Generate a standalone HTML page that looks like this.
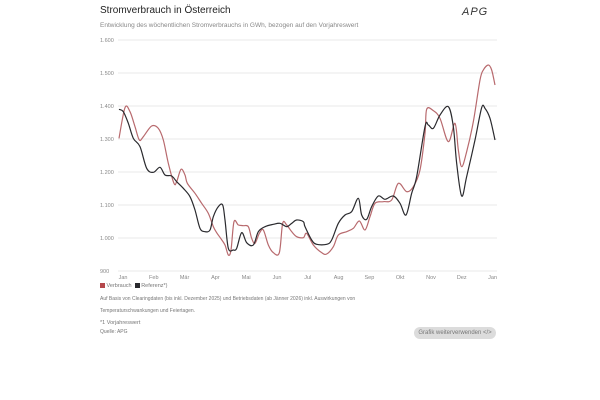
<!DOCTYPE html><html><head><meta charset="utf-8"><style>
body{margin:0;background:#fff;font-family:"Liberation Sans",sans-serif;}
#w{position:relative;width:600px;height:400px;overflow:hidden}
.t{position:absolute;color:#777;font-size:5.5px;white-space:nowrap}
</style></head><body><div id="w">
<div class="t" style="left:100px;top:5px;font-size:10px;color:#222">Stromverbrauch in Österreich</div>
<div class="t" style="left:100px;top:22px;font-size:6.5px;color:#888">Entwicklung des wöchentlichen Stromverbrauchs in GWh, bezogen auf den Vorjahreswert</div>
<div class="t" style="left:462px;top:6px;font-size:11px;font-style:italic;color:#333;letter-spacing:1px">APG</div>
<svg id="s" width="600" height="400" style="position:absolute;left:0;top:0"></svg>
<div class="t" style="left:100px;top:283px"><span style="display:inline-block;width:5px;height:5px;background:#b5484c;vertical-align:middle"></span> Verbrauch &nbsp;<span style="display:inline-block;width:5px;height:5px;background:#2a2a2e;vertical-align:middle"></span> Referenz*)</div>
<div class="t" style="left:100px;top:296px;font-size:5px">Auf Basis von Clearingdaten (bis inkl. Dezember 2025) und Betriebsdaten (ab Jänner 2026) inkl. Auswirkungen von</div>
<div class="t" style="left:100px;top:308px;font-size:5px">Temperaturschwankungen und Feiertagen.</div>
<div class="t" style="left:100px;top:320px">*1 Vorjahreswert</div>
<div class="t" style="left:100px;top:329px;font-size:5px">Quelle: APG</div>
<div class="t" style="left:414px;top:327px;width:82px;height:12px;border-radius:6px;background:#dcdcdc;line-height:12px;text-align:center;font-size:6px;color:#777">Grafik weiterverwenden &lt;/&gt;</div>
</div>
<script>
var s=document.getElementById('s'),h='';
for(var v=900;v<=1600;v+=100){var y=271-(v-900)*0.33;h+='<line x1="118" x2="497" y1="'+y+'" y2="'+y+'" stroke="#e3e3e3" stroke-width="0.8"/>';
h+='<text x="100" y="'+(y+2)+'" font-size="5.5" fill="#888" font-family="Liberation Sans">'+(v==900?'900':(''+v).replace(/^(\d)/,'$1.'))+'</text>';}
var m=['Jan','Feb','Mär','Apr','Mai','Jun','Jul','Aug','Sep','Okt','Nov','Dez','Jan'];
for(var i=0;i<13;i++){h+='<text x="'+(123+i*30.8)+'" y="279" font-size="5.5" fill="#888" text-anchor="middle" font-family="Liberation Sans">'+m[i]+'</text>';}
function cv(a,b){var p=[];for(var i=0;i<a.length;i+=2)p.push([100+a[i]/3,60+a[i+1]/3]);for(i=0;i<b.length;i+=2)p.push([300+b[i]/3,60+b[i+1]/3]);
var d='M'+p[0];for(i=0;i<p.length-1;i++){var p0=p[i-1]||p[i],p1=p[i],p2=p[i+1],p3=p[i+2]||p2;
d+=' C'+(p1[0]+(p2[0]-p0[0])/6)+','+(p1[1]+(p2[1]-p0[1])/6)+' '+(p2[0]-(p3[0]-p1[0])/6)+','+(p2[1]-(p3[1]-p1[1])/6)+' '+p2;}return d;}
var r3=[57,235,75,143,90,155,105,200,118,240,130,230,155,198,175,205,190,240,205,310,222,370,230,365,243,328,255,345,262,370,285,400,305,430,325,460,340,500,350,518,362,535,375,555,385,585,393,570,402,485,415,495,430,497,445,500,455,535,465,550,478,520,490,510,505,555,520,578,538,578,548,490,560,495,575,515,590,530];
var r4=[10,533,20,520,40,555,65,578,80,582,100,560,115,525,140,515,160,505,178,483,195,510,210,470,225,430,250,425,275,420,295,370,320,395,340,380,360,330,375,220,380,148,400,152,420,175,445,245,465,190,475,270,485,320,500,275,520,185,540,60,550,30,565,15,575,30,585,75];
var b3=[57,148,70,155,85,190,100,235,120,260,140,325,160,337,180,322,195,345,215,348,230,365,250,385,270,410,285,450,300,505,315,515,330,510,340,470,355,440,368,435,375,480,385,565,400,570,410,565,425,518,440,548,460,555,475,515,495,500,520,493,540,490,560,500,575,490,590,480];
var b4=[10,485,15,500,35,540,50,553,80,553,95,540,115,490,135,465,155,455,175,415,185,465,200,478,215,440,235,408,255,418,280,408,300,430,318,465,335,400,350,350,375,200,385,195,400,205,420,165,445,140,460,200,470,310,485,408,500,350,525,240,545,143,555,145,570,175,585,240];
h+='<path d="'+cv(r3,r4)+'" fill="none" stroke="#b86a6e" stroke-width="1.2"/>';
h+='<path d="'+cv(b3,b4)+'" fill="none" stroke="#2a2a2e" stroke-width="1.2"/>';
s.innerHTML=h;
</script></body></html>
